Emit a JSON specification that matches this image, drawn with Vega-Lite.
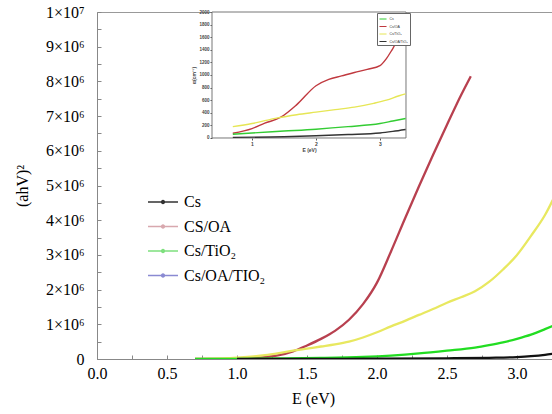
{
  "$schema": "https://vega.github.io/schema/vega-lite/v6.json",
  "width": 455,
  "height": 347,
  "autosize": "none",
  "padding": {"left": 97, "top": 12, "right": 0, "bottom": 55},
  "background": "white",
  "config": {"view": {"stroke": "#999"}, "font": "Liberation Serif"},
  "datasets": {
    "main": [
      {"s": "CS/OA", "E": 0.7, "v": 0}, {"s": "CS/OA", "E": 0.8, "v": 2000}, {"s": "CS/OA", "E": 0.9, "v": 5000}, {"s": "CS/OA", "E": 1.0, "v": 10000}, {"s": "CS/OA", "E": 1.1, "v": 25000}, {"s": "CS/OA", "E": 1.2, "v": 55000}, {"s": "CS/OA", "E": 1.3, "v": 110000}, {"s": "CS/OA", "E": 1.4, "v": 220000}, {"s": "CS/OA", "E": 1.5, "v": 390000}, {"s": "CS/OA", "E": 1.6, "v": 580000}, {"s": "CS/OA", "E": 1.7, "v": 810000}, {"s": "CS/OA", "E": 1.8, "v": 1130000}, {"s": "CS/OA", "E": 1.9, "v": 1580000}, {"s": "CS/OA", "E": 2.0, "v": 2200000}, {"s": "CS/OA", "E": 2.1, "v": 3100000}, {"s": "CS/OA", "E": 2.2, "v": 4050000}, {"s": "CS/OA", "E": 2.3, "v": 4980000}, {"s": "CS/OA", "E": 2.4, "v": 5880000}, {"s": "CS/OA", "E": 2.5, "v": 6750000}, {"s": "CS/OA", "E": 2.6, "v": 7600000}, {"s": "CS/OA", "E": 2.67, "v": 8150000},
      {"s": "Cs/OA/TIO₂", "E": 0.7, "v": 0}, {"s": "Cs/OA/TIO₂", "E": 0.8, "v": 10000}, {"s": "Cs/OA/TIO₂", "E": 0.9, "v": 20000}, {"s": "Cs/OA/TIO₂", "E": 1.0, "v": 40000}, {"s": "Cs/OA/TIO₂", "E": 1.1, "v": 70000}, {"s": "Cs/OA/TIO₂", "E": 1.2, "v": 110000}, {"s": "Cs/OA/TIO₂", "E": 1.3, "v": 170000}, {"s": "Cs/OA/TIO₂", "E": 1.4, "v": 240000}, {"s": "Cs/OA/TIO₂", "E": 1.5, "v": 300000}, {"s": "Cs/OA/TIO₂", "E": 1.6, "v": 360000}, {"s": "Cs/OA/TIO₂", "E": 1.7, "v": 420000}, {"s": "Cs/OA/TIO₂", "E": 1.8, "v": 500000}, {"s": "Cs/OA/TIO₂", "E": 1.9, "v": 620000}, {"s": "Cs/OA/TIO₂", "E": 2.0, "v": 770000}, {"s": "Cs/OA/TIO₂", "E": 2.1, "v": 940000}, {"s": "Cs/OA/TIO₂", "E": 2.2, "v": 1100000}, {"s": "Cs/OA/TIO₂", "E": 2.3, "v": 1270000}, {"s": "Cs/OA/TIO₂", "E": 2.4, "v": 1440000}, {"s": "Cs/OA/TIO₂", "E": 2.5, "v": 1620000}, {"s": "Cs/OA/TIO₂", "E": 2.6, "v": 1780000}, {"s": "Cs/OA/TIO₂", "E": 2.7, "v": 1950000}, {"s": "Cs/OA/TIO₂", "E": 2.8, "v": 2220000}, {"s": "Cs/OA/TIO₂", "E": 2.9, "v": 2580000}, {"s": "Cs/OA/TIO₂", "E": 3.0, "v": 3000000}, {"s": "Cs/OA/TIO₂", "E": 3.1, "v": 3550000}, {"s": "Cs/OA/TIO₂", "E": 3.2, "v": 4150000}, {"s": "Cs/OA/TIO₂", "E": 3.27, "v": 4700000},
      {"s": "Cs/TiO₂", "E": 0.7, "v": 0}, {"s": "Cs/TiO₂", "E": 1.0, "v": 5000}, {"s": "Cs/TiO₂", "E": 1.3, "v": 15000}, {"s": "Cs/TiO₂", "E": 1.6, "v": 30000}, {"s": "Cs/TiO₂", "E": 1.9, "v": 60000}, {"s": "Cs/TiO₂", "E": 2.1, "v": 100000}, {"s": "Cs/TiO₂", "E": 2.3, "v": 160000}, {"s": "Cs/TiO₂", "E": 2.5, "v": 240000}, {"s": "Cs/TiO₂", "E": 2.7, "v": 330000}, {"s": "Cs/TiO₂", "E": 2.8, "v": 400000}, {"s": "Cs/TiO₂", "E": 2.9, "v": 480000}, {"s": "Cs/TiO₂", "E": 3.0, "v": 580000}, {"s": "Cs/TiO₂", "E": 3.1, "v": 700000}, {"s": "Cs/TiO₂", "E": 3.2, "v": 860000}, {"s": "Cs/TiO₂", "E": 3.27, "v": 980000},
      {"s": "Cs", "E": 1.0, "v": 0}, {"s": "Cs", "E": 1.5, "v": 2000}, {"s": "Cs", "E": 2.0, "v": 8000}, {"s": "Cs", "E": 2.5, "v": 20000}, {"s": "Cs", "E": 2.8, "v": 35000}, {"s": "Cs", "E": 3.0, "v": 55000}, {"s": "Cs", "E": 3.1, "v": 80000}, {"s": "Cs", "E": 3.2, "v": 120000}, {"s": "Cs", "E": 3.27, "v": 160000}
    ],
    "inset": [
      {"s": "Cs/OA", "E": 0.7, "a": 75}, {"s": "Cs/OA", "E": 1.0, "a": 150}, {"s": "Cs/OA", "E": 1.2, "a": 235}, {"s": "Cs/OA", "E": 1.45, "a": 330}, {"s": "Cs/OA", "E": 1.7, "a": 530}, {"s": "Cs/OA", "E": 2.0, "a": 830}, {"s": "Cs/OA", "E": 2.2, "a": 930}, {"s": "Cs/OA", "E": 2.4, "a": 985}, {"s": "Cs/OA", "E": 2.6, "a": 1040}, {"s": "Cs/OA", "E": 2.8, "a": 1090}, {"s": "Cs/OA", "E": 3.0, "a": 1150}, {"s": "Cs/OA", "E": 3.1, "a": 1260}, {"s": "Cs/OA", "E": 3.2, "a": 1420}, {"s": "Cs/OA", "E": 3.3, "a": 1580}, {"s": "Cs/OA", "E": 3.35, "a": 1560}, {"s": "Cs/OA", "E": 3.4, "a": 1500},
      {"s": "Cs/TiO₂", "E": 0.7, "a": 180}, {"s": "Cs/TiO₂", "E": 1.0, "a": 230}, {"s": "Cs/TiO₂", "E": 1.4, "a": 320}, {"s": "Cs/TiO₂", "E": 1.7, "a": 370}, {"s": "Cs/TiO₂", "E": 2.0, "a": 410}, {"s": "Cs/TiO₂", "E": 2.3, "a": 450}, {"s": "Cs/TiO₂", "E": 2.6, "a": 490}, {"s": "Cs/TiO₂", "E": 2.9, "a": 550}, {"s": "Cs/TiO₂", "E": 3.1, "a": 600}, {"s": "Cs/TiO₂", "E": 3.3, "a": 670}, {"s": "Cs/TiO₂", "E": 3.4, "a": 700},
      {"s": "Cs", "E": 0.7, "a": 60}, {"s": "Cs", "E": 1.0, "a": 80}, {"s": "Cs", "E": 1.5, "a": 110}, {"s": "Cs", "E": 2.0, "a": 140}, {"s": "Cs", "E": 2.5, "a": 180}, {"s": "Cs", "E": 3.0, "a": 230}, {"s": "Cs", "E": 3.2, "a": 270}, {"s": "Cs", "E": 3.4, "a": 310},
      {"s": "Cs/OA/TiO₂", "E": 0.7, "a": 10}, {"s": "Cs/OA/TiO₂", "E": 1.5, "a": 20}, {"s": "Cs/OA/TiO₂", "E": 2.0, "a": 35}, {"s": "Cs/OA/TiO₂", "E": 2.5, "a": 55}, {"s": "Cs/OA/TiO₂", "E": 3.0, "a": 80}, {"s": "Cs/OA/TiO₂", "E": 3.2, "a": 105}, {"s": "Cs/OA/TiO₂", "E": 3.4, "a": 135}
    ]
  },
  "layer": [
    {
      "data": {"name": "main"},
      "encoding": {
        "x": {
          "field": "E", "type": "quantitative",
          "scale": {"domain": [0, 3.25], "nice": false, "zero": false},
          "axis": {
            "orient": "bottom",
            "values": [0, 0.25, 0.5, 0.75, 1, 1.25, 1.5, 1.75, 2, 2.25, 2.5, 2.75, 3, 3.25],
            "labelExpr": "datum.value % 0.5 == 0 ? format(datum.value, '.1f') : ''",
            "labelOverlap": false, "labelFlush": false, "grid": false,
            "tickSize": -4, "tickColor": "#888", "domainColor": "#888",
            "labelFontSize": 16, "labelColor": "black", "labelPadding": 10,
            "title": "E (eV)", "titleFontSize": 16, "titleFontWeight": "normal", "titleColor": "black", "titlePadding": 9, "titleX": 216
          }
        },
        "y": {
          "field": "v", "type": "quantitative",
          "scale": {"domain": [0, 10000000], "nice": false},
          "axis": {
            "orient": "left",
            "values": [0, 500000, 1000000, 1500000, 2000000, 2500000, 3000000, 3500000, 4000000, 4500000, 5000000, 5500000, 6000000, 6500000, 7000000, 7500000, 8000000, 8500000, 9000000, 9500000, 10000000],
            "labelExpr": "datum.value == 0 ? '0' : datum.value == 10000000 ? '1×10⁷' : (datum.value % 1000000 == 0 ? format(datum.value / 1000000, 'd') + '×10⁶' : '')",
            "labelOverlap": false, "grid": false,
            "tickSize": -4, "tickColor": "#888", "domainColor": "#888",
            "labelFontSize": 16, "labelColor": "black", "labelPadding": 17,
            "title": "(ahV)²", "titleFontSize": 16, "titleFontWeight": "normal", "titleColor": "black", "titlePadding": 15
          }
        }
      },
      "layer": [
        {
          "mark": {"type": "line", "strokeWidth": 2.3, "clip": true, "interpolate": "monotone"},
          "encoding": {
            "color": {
              "field": "s", "type": "nominal",
              "scale": {"domain": ["Cs", "CS/OA", "Cs/TiO₂", "Cs/OA/TIO₂"], "range": ["#111111", "#b8404f", "#22dd22", "#e8e860"]},
              "legend": null
            }
          }
        },
        {
          "mark": {"type": "line", "opacity": 0, "clip": true},
          "encoding": {
            "color": {
              "field": "s", "type": "nominal",
              "scale": {"domain": ["Cs", "CS/OA", "Cs/TiO₂", "Cs/OA/TIO₂"], "range": ["#333333", "#d8a8ae", "#7ee07e", "#8a8ad2"]},
              "legend": {
                "orient": "none", "legendX": 50, "legendY": 174, "title": null,
                "labelFontSize": 16, "labelFont": "Liberation Serif", "labelColor": "black", "labelOffset": 5,
                "symbolType": "M-1,0H1M-0.1,0A0.1,0.1 0 1,1 0.1,0A0.1,0.1 0 1,1 -0.1,0",
                "symbolSize": 900, "symbolOpacity": 1, "symbolStrokeWidth": 1.4, "rowPadding": 0.5
              }
            }
          }
        }
      ],
      "resolve": {"scale": {"color": "independent"}, "legend": {"color": "independent"}}
    },
    {
      "layer": [
        {
          "data": {"values": [{}]},
          "mark": {"type": "rect", "fill": "white", "stroke": "#777", "strokeWidth": 1},
          "encoding": {
            "x": {"datum": 0.375, "type": "quantitative", "scale": {"domain": [-1.422, 5.6875], "nice": false, "zero": false},
              "axis": {"orient": "bottom", "offset": -221, "values": [1, 2, 3], "domain": false, "grid": false, "tickSize": 2, "tickColor": "#555", "labelFontSize": 5, "labelFont": "Liberation Sans", "labelFontWeight": "bold", "labelColor": "#444", "labelPadding": 1, "title": "E (eV)", "titleFont": "Liberation Sans", "titleFontSize": 5, "titleFontWeight": "bold", "titleColor": "#444", "titlePadding": 1, "titleX": 212}},
            "x2": {"datum": 3.406},
            "y": {"datum": 0, "type": "quantitative", "scale": {"domain": [-3508, 2000], "nice": false, "zero": false},
              "axis": {"orient": "left", "offset": -115, "values": [0, 200, 400, 600, 800, 1000, 1200, 1400, 1600, 1800, 2000], "format": "d", "domain": false, "grid": false, "tickSize": 2, "tickColor": "#555", "labelFontSize": 4.5, "labelFont": "Liberation Sans", "labelFontWeight": "bold", "labelColor": "#444", "labelPadding": 1, "title": "α(cm⁻¹)", "titleFont": "Liberation Sans", "titleFontSize": 5, "titleFontWeight": "bold", "titleColor": "#444", "titlePadding": 2, "titleY": 63}},
            "y2": {"datum": 2000}
          }
        },
        {
          "data": {"name": "inset"},
          "mark": {"type": "line", "strokeWidth": 1.4, "clip": true, "interpolate": "monotone"},
          "encoding": {
            "x": {"field": "E", "type": "quantitative", "scale": {"domain": [-1.422, 5.6875], "nice": false, "zero": false},
              "axis": {"orient": "bottom", "offset": -221, "values": [1, 2, 3], "domain": false, "grid": false, "tickSize": 2, "tickColor": "#555", "labelFontSize": 5, "labelFont": "Liberation Sans", "labelFontWeight": "bold", "labelColor": "#444", "labelPadding": 1, "title": "E (eV)", "titleFont": "Liberation Sans", "titleFontSize": 5, "titleFontWeight": "bold", "titleColor": "#444", "titlePadding": 1, "titleX": 212}},
            "y": {"field": "a", "type": "quantitative", "scale": {"domain": [-3508, 2000], "nice": false, "zero": false},
              "axis": {"orient": "left", "offset": -115, "values": [0, 200, 400, 600, 800, 1000, 1200, 1400, 1600, 1800, 2000], "format": "d", "domain": false, "grid": false, "tickSize": 2, "tickColor": "#555", "labelFontSize": 4.5, "labelFont": "Liberation Sans", "labelFontWeight": "bold", "labelColor": "#444", "labelPadding": 1, "title": "α(cm⁻¹)", "titleFont": "Liberation Sans", "titleFontSize": 5, "titleFontWeight": "bold", "titleColor": "#444", "titlePadding": 2, "titleY": 63}},
            "color": {
              "field": "s", "type": "nominal",
              "scale": {"domain": ["Cs", "Cs/OA", "Cs/TiO₂", "Cs/OA/TiO₂"], "range": ["#33cc33", "#c0393f", "#e6e655", "#333333"]},
              "legend": {
                "orient": "none", "legendX": 280, "legendY": 1, "title": null,
                "labelFontSize": 3.5, "labelFont": "Liberation Sans", "labelColor": "#333", "labelOffset": 2,
                "symbolType": "stroke", "symbolSize": 50, "symbolStrokeWidth": 1, "rowPadding": 0.5,
                "padding": 1.5, "strokeColor": "#666", "fillColor": "white"
              }
            }
          }
        }
      ]
    }
  ],
  "resolve": {
    "scale": {"x": "independent", "y": "independent", "color": "independent"},
    "axis": {"x": "independent", "y": "independent"},
    "legend": {"color": "independent"}
  }
}
